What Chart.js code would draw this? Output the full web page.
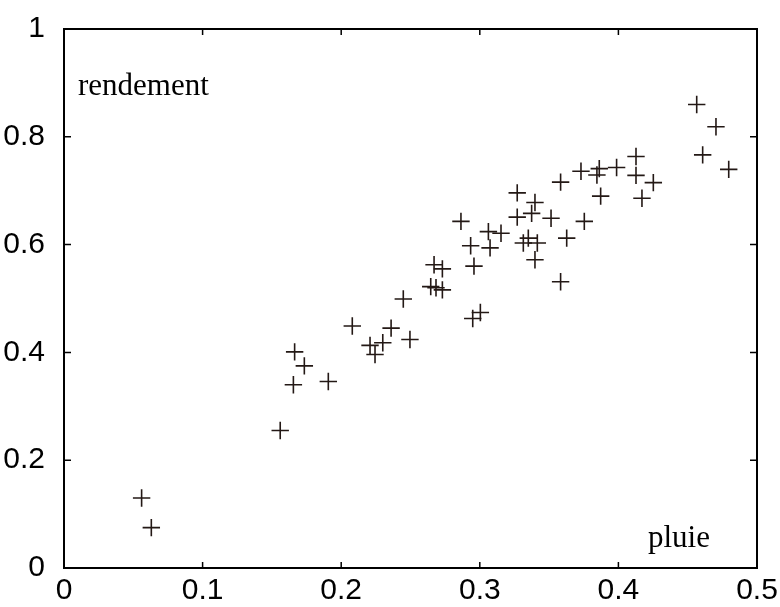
<!DOCTYPE html>
<html>
<head>
<meta charset="utf-8">
<script src="https://cdn.jsdelivr.net/npm/chart.js@4/dist/chart.umd.min.js"></script>
<style>
  html, body { margin: 0; padding: 0; background: #fff; }
  #wrap { width: 780px; height: 607px; }
</style>
</head>
<body>
<div id="wrap"><canvas id="myChart"></canvas></div>
<script>
// rainfall (x) vs yield (y)
var pluie = [0.056, 0.063, 0.156, 0.1655, 0.1664, 0.1734, 0.1907, 0.208, 0.2208, 0.2244,
             0.230, 0.236, 0.2496, 0.2448, 0.2646, 0.2684, 0.273, 0.267, 0.273, 0.2864,
             0.2934, 0.2958, 0.2949, 0.3004, 0.3062, 0.3074, 0.3153, 0.327, 0.327, 0.3314,
             0.335, 0.3374, 0.3398, 0.3415, 0.3398, 0.3514, 0.3583, 0.3583, 0.3627, 0.373,
             0.3754, 0.3845, 0.3862, 0.3872, 0.3987, 0.4127, 0.4127, 0.417, 0.4252, 0.4565,
             0.4608, 0.4704, 0.4796];
var rendement = [0.130, 0.075, 0.255, 0.340, 0.401, 0.375, 0.346, 0.449, 0.413, 0.396,
                 0.418, 0.445, 0.424, 0.499, 0.522, 0.520, 0.516, 0.5625, 0.555, 0.643,
                 0.598, 0.560, 0.463, 0.474, 0.624, 0.594, 0.621, 0.696, 0.651, 0.603,
                 0.612, 0.658, 0.678, 0.603, 0.572, 0.649, 0.716, 0.531, 0.612, 0.736,
                 0.643, 0.729, 0.741, 0.690, 0.743, 0.7635, 0.7285, 0.686, 0.715, 0.860,
                 0.7665, 0.8186, 0.7396];
var xTicks = [0, 0.1, 0.2, 0.3, 0.4, 0.5];
var yTicks = [0, 0.2, 0.4, 0.6, 0.8, 1];

var pts = [];
for (var i = 0; i < pluie.length; i++) {
    pts.push({x: pluie[i], y: rendement[i]});
}

function fmt(v) {
    return String(Number(v.toFixed(1)));
}

// box around the plot, inward ticks on all four sides, and the two labels
var boxPlugin = {
    id: 'box',
    afterDraw: function (chart) {
        var ctx = chart.ctx;
        var a = chart.chartArea;
        var sx = chart.scales.x, sy = chart.scales.y;
        ctx.save();
        ctx.strokeStyle = '#000';
        ctx.lineWidth = 1.5;
        for (var t of xTicks) {
            var px = sx.getPixelForValue(t);
            ctx.beginPath();
            ctx.moveTo(px, a.bottom); ctx.lineTo(px, a.bottom - 6);
            ctx.moveTo(px, a.top); ctx.lineTo(px, a.top + 6);
            ctx.stroke();
        }
        for (var t of yTicks) {
            var py = sy.getPixelForValue(t);
            ctx.beginPath();
            ctx.moveTo(a.left, py); ctx.lineTo(a.left + 7, py);
            ctx.moveTo(a.right, py); ctx.lineTo(a.right - 7, py);
            ctx.stroke();
        }
        ctx.lineWidth = 2;
        ctx.strokeRect(a.left, a.top, a.right - a.left, a.bottom - a.top);

        ctx.fillStyle = '#000';
        ctx.font = '31px "Liberation Serif", "Times New Roman", serif';
        ctx.textBaseline = 'alphabetic';
        ctx.textAlign = 'left';
        ctx.fillText('rendement', a.left + 14, a.top + 66);
        ctx.fillText('pluie', a.right - 109, a.bottom - 21);
        ctx.restore();
    }
};

var ctx = document.getElementById('myChart').getContext('2d');
var myChart = new Chart(ctx, {
    type: 'scatter',
    data: {
        datasets: [{
            label: 'rendement',
            data: pts,
            pointStyle: 'cross',
            pointRadius: 8.7,
            pointHoverRadius: 8.7,
            borderColor: '#231815',
            backgroundColor: '#231815',
            borderWidth: 1.6
        }]
    },
    options: {
        responsive: true,
        maintainAspectRatio: false,
        animation: false,
        events: [],
        layout: { padding: { top: 24, right: 23, left: 0, bottom: 0 } },
        plugins: {
            legend: { display: false },
            tooltip: { enabled: false }
        },
        scales: {
            x: {
                type: 'linear',
                min: 0, max: 0.5,
                grid: { display: false },
                border: { display: false },
                afterBuildTicks: function (s) { s.ticks = xTicks.map(function (v) { return {value: v}; }); },
                afterFit: function (s) { s.height = 39; },
                ticks: {
                    color: '#000',
                    padding: -3,
                    maxRotation: 0,
                    autoSkip: false,
                    font: { family: '"Liberation Sans", Arial, Helvetica, sans-serif', size: 30 },
                    callback: function (v) { return fmt(v); }
                }
            },
            y: {
                type: 'linear',
                min: 0, max: 1,
                grid: { display: false },
                border: { display: false },
                afterBuildTicks: function (s) { s.ticks = yTicks.map(function (v) { return {value: v}; }); },
                afterFit: function (s) { s.width = 64; },
                ticks: {
                    color: '#000',
                    padding: 11,
                    autoSkip: false,
                    font: { family: '"Liberation Sans", Arial, Helvetica, sans-serif', size: 30 },
                    callback: function (v) { return fmt(v); }
                }
            }
        }
    },
    plugins: [boxPlugin]
});
</script>
</body>
</html>
